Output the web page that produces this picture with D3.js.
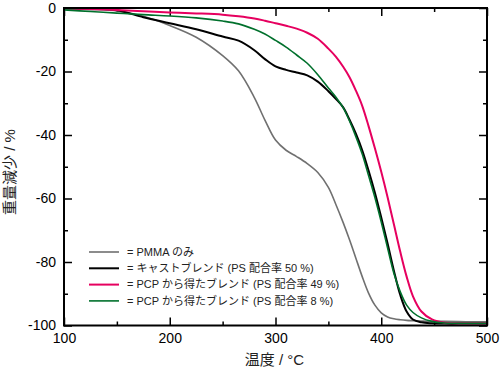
<!DOCTYPE html>
<html>
<head>
<meta charset="utf-8">
<script src="https://d3js.org/d3.v7.min.js"></script>
<style>
    body { margin: 0; background: #fff; }
    text { font-family: "Liberation Sans", Arial, "Noto Sans CJK JP", sans-serif; }
</style>
</head>
<body>
<div id="chart"></div>
<script>

// temperature grid (°C) the curves were read at
let temps = [100, 125, 150, 175, 200, 225, 250, 265, 280, 290, 300, 310, 320, 330, 340, 350, 357, 364, 370,
    376, 382, 388, 394, 400, 406, 412, 418, 424, 430, 438, 448, 460, 480, 500];

// weight loss (%) for each sample
let pmmaOnly = [-0.2, -0.5, -0.9, -2.6, -5.5, -9.2, -15, -19.8, -28.2, -35.3, -41.6, -44.8, -46.8, -49, -51.8,
    -56.5, -61.8, -67.6, -73, -78.8, -84.6, -89.8, -93.6, -96, -97.3, -97.9, -98.2, -98.4, -98.5, -98.6, -98.7, -98.7, -98.8, -98.8];
let castBlend = [0, -0.2, -0.7, -2.9, -4.8, -6.7, -9, -10.3, -13.3, -16.1, -18.4, -19.5, -20.3, -21.2, -23.2,
    -26.2, -28.6, -31.3, -35.2, -39.6, -44.8, -51.2, -58.2, -66, -74.2, -82.8, -90.4, -95.6, -98.1, -99, -99.3, -99.4, -99.4, -99.4];
let pcpBlend49 = [-0.1, -0.3, -0.6, -1.0, -1.4, -1.7, -2.1, -2.6, -3.3, -4, -4.8, -5.6, -6.5, -7.8, -9.7,
    -12.8, -15.3, -18.5, -21.8, -26, -30.8, -37.2, -44.2, -51.6, -59.6, -68.2, -76.8, -84.6, -90.8, -95.6, -98.1, -99.1, -99.3, -99.3];
let pcpBlend8 = [-0.6, -1.1, -1.6, -2.1, -2.5, -3.1, -4.1, -5, -6.7, -8.2, -10.2, -12.3, -14.8, -17.4, -21,
    -25.2, -28, -31.4, -35.6, -40.5, -46, -52.8, -59.7, -67.4, -75.6, -83.6, -89.4, -93.6, -95.9, -97.6, -98.7, -99.2, -99.3, -99.3];

let seriesNames = ["= PMMA のみ", "= キャストブレンド (PS 配合率 50 %)",
    "= PCP から得たブレンド (PS 配合率 49 %)", "= PCP から得たブレンド (PS 配合率 8 %)"];
let seriesColors = ["#707070", "#000000", "#e6005f", "#00702c"];

let xMajor = [100, 200, 300, 400, 500];
let xMinor = [150, 250, 350, 450];
let yMajor = [0, -20, -40, -60, -80, -100];
let yMinor = [-10, -30, -50, -70, -90];

class TgaChart
{
    constructor(parentElement)
    {
        this.parentElement = parentElement;
        this.initVis();
    }

    initVis()
    {
        let vis = this;

        vis.margin = {top: 8, right: 13, bottom: 47.5, left: 64};
        vis.width = 500 - vis.margin.left - vis.margin.right;
        vis.height = 373 - vis.margin.top - vis.margin.bottom;

        vis.svg = d3.select("#" + vis.parentElement)
            .append("svg")
            .attr("width", 500)
            .attr("height", 373)
            .append("g")
            .attr("transform", "translate(" + vis.margin.left + "," + vis.margin.top + ")");

        vis.x = d3.scaleLinear().domain([100, 500]).range([0, vis.width]);
        vis.y = d3.scaleLinear().domain([-100, 0]).range([vis.height, 0]);

        vis.line = d3.line()
            .x(d => vis.x(d[0]))
            .y(d => vis.y(d[1]))
            .curve(d3.curveCatmullRom.alpha(0.5));

        vis.wrangleData();
    }

    wrangleData()
    {
        let vis = this;

        // pair each series with the temperature grid
        vis.series = [pmmaOnly, castBlend, pcpBlend49, pcpBlend8].map(function (vals, i) {
            return {
                name: seriesNames[i],
                color: seriesColors[i],
                points: temps.map((t, j) => [t, vals[j]])
            };
        });

        vis.updateVis();
    }

    updateVis()
    {
        let vis = this;

        // ticks point inwards on all four sides
        let fmt = d => String(d);
        let axes = [
            [d3.axisBottom(vis.x).tickValues(xMajor).tickSize(-8).tickPadding(8).tickFormat(fmt), "translate(0," + vis.height + ")"],
            [d3.axisBottom(vis.x).tickValues(xMinor).tickSize(-4).tickFormat(""), "translate(0," + vis.height + ")"],
            [d3.axisTop(vis.x).tickValues(xMajor).tickSize(-8).tickFormat(""), "translate(0,0)"],
            [d3.axisTop(vis.x).tickValues(xMinor).tickSize(-4).tickFormat(""), "translate(0,0)"],
            [d3.axisLeft(vis.y).tickValues(yMajor).tickSize(-8).tickPadding(8).tickFormat(fmt), "translate(0,0)"],
            [d3.axisLeft(vis.y).tickValues(yMinor).tickSize(-4).tickFormat(""), "translate(0,0)"],
            [d3.axisRight(vis.y).tickValues(yMajor).tickSize(-8).tickFormat(""), "translate(" + vis.width + ",0)"],
            [d3.axisRight(vis.y).tickValues(yMinor).tickSize(-4).tickFormat(""), "translate(" + vis.width + ",0)"]
        ];
        axes.forEach(function (a) {
            let g = vis.svg.append("g").attr("transform", a[1]).call(a[0]);
            g.select(".domain").remove();
            g.selectAll("line").attr("stroke", "#000").attr("stroke-width", 1.5);
            g.selectAll("text").attr("font-size", 14).attr("fill", "#000")
                .style("font-family", "'Liberation Sans', Arial, sans-serif");
        });

        // curves
        vis.svg.append("g")
            .selectAll(".curve")
            .data(vis.series)
            .enter()
            .append("path")
            .attr("class", "curve")
            .attr("d", d => vis.line(d.points))
            .attr("fill", "none")
            .attr("stroke", d => d.color)
            .attr("stroke-width", (d, i) => i === 0 || i === 3 ? 1.6 : 2);

        // frame
        vis.svg.append("rect")
            .attr("width", vis.width)
            .attr("height", vis.height)
            .attr("fill", "none")
            .attr("stroke", "#000")
            .attr("stroke-width", 2);

        // legend
        let legend = vis.svg.append("g").attr("transform", "translate(25,244)");
        let rows = legend.selectAll(".row")
            .data(vis.series)
            .enter()
            .append("g")
            .attr("class", "row")
            .attr("transform", (d, i) => "translate(0," + (i * 16.3) + ")");
        rows.append("line")
            .attr("x1", 0).attr("x2", 30)
            .attr("stroke", d => d.color)
            .attr("stroke-width", (d, i) => i === 0 || i === 3 ? 1.6 : 2);
        rows.append("text")
            .attr("x", 38)
            .attr("dy", "0.35em")
            .attr("font-size", 11)
            .attr("fill", "#222")
            .text(d => d.name);

        // axis titles
        vis.svg.append("text")
            .attr("x", vis.width / 2 - 1)
            .attr("y", vis.height + 39.5)
            .attr("text-anchor", "middle")
            .attr("font-size", 15)
            .attr("fill", "#222")
            .text("温度 / °C");

        vis.svg.append("text")
            .attr("transform", "translate(-54.5,164) rotate(-90)")
            .attr("text-anchor", "middle")
            .attr("dy", "0.35em")
            .attr("font-size", 15)
            .attr("fill", "#222")
            .text("重量減少 / %");
    }
}

new TgaChart("chart");
</script>
</body>
</html>
